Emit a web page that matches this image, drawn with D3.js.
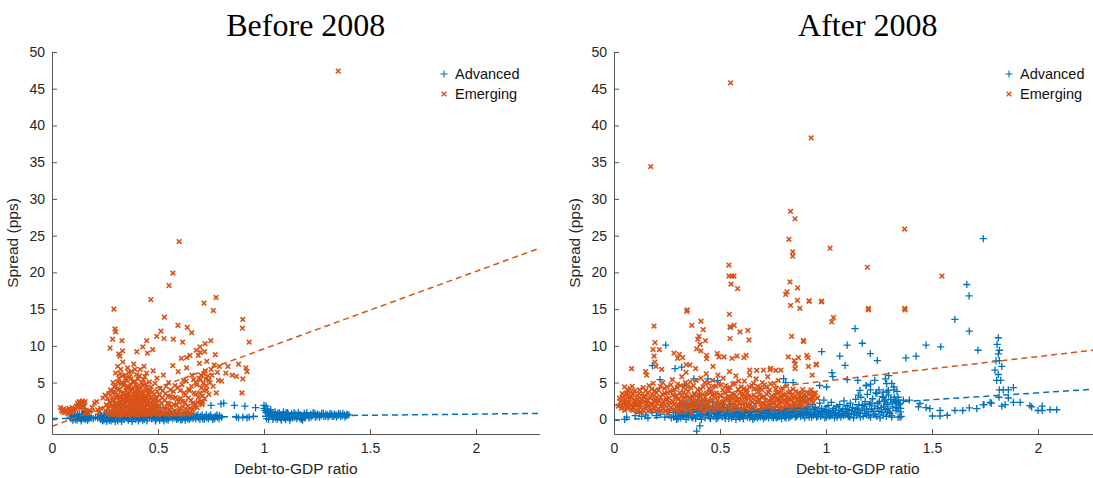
<!DOCTYPE html>
<html>
<head>
<meta charset="utf-8">
<script src="https://cdn.jsdelivr.net/npm/d3@7/dist/d3.min.js"></script>
<style>
body { margin: 0; background: #fff; }
svg { display: block; }
.tick text { font-family: "Liberation Sans", Arial, sans-serif; font-size: 14px; fill: #262626; }
</style>
</head>
<body>
<svg id="fig" width="1093" height="478"></svg>
<script>
// axis setup
var xDomain = [0, 2.3];
var yDomain = [-2, 50];
var xTicks = [0, 0.5, 1, 1.5, 2];
var yTicks = [0, 5, 10, 15, 20, 25, 30, 35, 40, 45, 50];
var seriesNames = ["Advanced", "Emerging"];
var seriesColors = ["#0072BD", "#D95319"];
var panelTitles = ["Before 2008", "After 2008"];

// before 2008, advanced economies [debt/gdp, spread]
var beforeAdv = [
  [0.085,0.3],[0.09,0.1],[0.095,0.5],[0.1,0.2],[0.105,0.4],[0.11,0.0],[0.115,0.3],[0.12,0.6],[0.125,0.2],[0.13,0.4],
  [0.135,0.1],[0.14,0.5],[0.145,0.3],[0.15,0.7],[0.155,0.9],[0.158,0.5],[0.16,1.0],[0.162,0.2],[0.165,0.6],[0.17,0.3],[0.175,0.1],
  [0.088,0.6],[0.098,-0.1],[0.108,0.6],[0.118,-0.1],[0.128,0.7],[0.138,-0.2],[0.148,0.1],[0.152,1.1],[0.157,0.0],[0.163,0.8],
  [0.168,-0.1],[0.172,0.5],[0.178,0.3],[0.185,0.2],[0.195,0.1],[0.205,0.3],[0.215,0.2],
  [0.225,0.3],[0.23,0.0],[0.235,0.5],[0.24,0.2],[0.245,-0.1],[0.25,0.4],[0.255,0.1],[0.26,0.6],[0.265,0.2],[0.27,-0.1],
  [0.275,0.3],[0.28,0.5],[0.285,0.0],[0.29,0.2],[0.295,0.4],[0.3,0.1],[0.305,0.6],[0.31,-0.2],[0.315,0.3],[0.32,0.1],
  [0.325,0.5],[0.33,0.2],[0.335,0.7],[0.34,0.0],[0.345,0.4],[0.35,0.2],[0.355,0.6],[0.36,-0.1],[0.365,0.3],[0.37,0.5],
  [0.375,0.1],[0.38,0.8],[0.385,0.2],[0.39,0.4],[0.395,0.0],[0.4,0.6],[0.405,0.3],[0.41,0.9],[0.415,0.1],[0.42,0.5],
  [0.425,0.2],[0.43,0.7],[0.435,0.0],[0.44,0.4],[0.445,1.1],[0.45,0.2],[0.455,0.6],[0.46,0.3],[0.465,0.8],[0.47,0.1],
  [0.475,0.5],[0.48,0.3],[0.485,0.7],[0.49,0.0],[0.495,0.4],[0.5,0.2],[0.505,0.6],[0.51,1.6],[0.515,0.3],[0.52,0.1],
  [0.525,0.5],[0.53,0.2],[0.535,0.7],[0.54,0.0],[0.545,0.4],[0.55,0.2],[0.555,0.6],[0.56,0.3],[0.565,0.8],[0.57,0.1],
  [0.575,0.4],[0.58,0.2],[0.585,0.6],[0.59,0.3],[0.595,0.1],[0.6,0.5],[0.605,0.2],[0.61,0.4],[0.615,0.0],[0.62,0.3],
  [0.625,0.6],[0.63,0.2],[0.635,0.4],[0.64,0.1],[0.645,0.5],[0.65,0.3],[0.655,0.2],[0.66,0.4],[0.665,0.1],[0.67,0.3],
  [0.68,0.5],[0.69,0.2],[0.7,0.4],[0.71,0.1],[0.72,0.3],[0.73,0.2],[0.74,0.4],[0.75,0.3],[0.76,0.2],[0.77,0.4],
  [0.78,0.3],[0.79,0.5],[0.8,0.3],[0.797,2.1],[0.81,2.2],[0.86,1.9],[0.91,1.8],[0.75,1.9],
  [0.228,0.6],[0.238,-0.2],[0.248,0.7],[0.258,-0.3],[0.268,0.5],[0.278,-0.2],[0.288,0.8],[0.298,-0.3],[0.308,0.3],[0.318,0.8],
  [0.328,-0.3],[0.338,0.4],[0.348,0.9],[0.358,0.1],[0.368,0.7],[0.378,-0.3],[0.388,0.6],[0.398,0.9],[0.408,-0.2],[0.418,0.7],
  [0.428,-0.1],[0.438,0.9],[0.448,-0.2],[0.458,0.8],[0.468,0.4],[0.478,1.0],[0.488,-0.2],[0.498,0.7],[0.508,-0.1],[0.518,0.8],
  [0.528,-0.2],[0.538,0.9],[0.548,-0.1],[0.558,0.9],[0.568,0.4],[0.578,0.8],[0.588,0.0],[0.598,0.8],[0.608,-0.1],[0.618,0.7],
  [0.628,-0.1],[0.638,0.8],[0.648,0.0],[0.658,0.7],[0.668,0.6],[0.678,0.1],[0.688,0.6],[0.698,0.0],[0.708,0.6],[0.718,0.0],
  [0.728,0.6],[0.738,0.1],[0.748,0.6],[0.758,0.0],[0.768,0.1],[0.778,0.6],[0.788,0.1],
  [0.87,0.3],[0.88,0.2],[0.9,0.3],[0.92,0.2],[0.93,0.3],[0.95,0.4],[0.96,1.6],[1.0,1.9],[1.0,1.5],[1.005,1.2],
  [1.01,1.8],[1.01,0.9],[1.015,1.4],[1.02,0.7],[1.02,1.1],[1.025,0.5],[1.03,0.9],[1.035,0.4],[1.04,0.7],[1.045,0.3],
  [1.05,0.6],[1.055,0.2],[1.06,0.5],[1.065,0.8],[1.07,0.3],[1.075,0.6],[1.08,0.1],[1.085,0.4],[1.09,0.7],[1.095,0.2],
  [1.1,0.5],[1.105,0.9],[1.11,0.3],[1.115,0.6],[1.12,0.1],[1.125,0.4],[1.13,0.8],[1.135,0.2],[1.14,0.5],[1.145,0.3],
  [1.15,0.7],[1.155,0.1],[1.16,0.4],[1.165,0.6],[1.17,0.2],[1.175,0.0],[1.18,0.1],[1.185,0.5],[1.19,0.8],[1.195,0.3],
  [1.2,0.6],[1.21,0.4],[1.22,0.7],[1.23,0.5],[1.24,0.8],[1.25,0.4],[1.26,0.6],[1.27,0.5],[1.28,0.8],[1.29,0.4],
  [1.3,0.6],[1.31,0.5],[1.32,0.7],[1.33,0.4],[1.34,0.6],[1.35,0.5],[1.36,0.7],[1.37,0.5],[1.38,0.6],[1.39,0.5],[1.4,0.6],
  [1.012,0.1],[1.022,0.0],[1.032,1.3],[1.042,0.0],[1.052,1.0],[1.062,0.0],[1.072,0.9],[1.082,-0.1],[1.092,1.0],[1.102,0.0],
  [1.112,0.9],[1.122,-0.1],[1.132,0.6],[1.142,0.9],[1.152,0.4],[1.162,0.9],[1.172,0.6],[1.182,-0.1],[1.192,0.2],[1.202,0.9],
  [1.212,0.2],[1.222,0.3],[1.232,0.9],[1.242,0.3],[1.252,0.7],[1.262,0.3],[1.272,0.8],[1.282,0.4],[1.292,0.7],[1.302,0.3],
  [1.312,0.8],[1.322,0.4],[1.332,0.7],[1.342,0.3],[1.352,0.8],[1.362,0.4],[1.372,0.8],[1.382,0.3],[1.392,0.7]
];

// before 2008, emerging economies
var beforeEme = [
  [1.35,47.4],[0.60,24.2],[0.57,19.9],[0.552,18.2],[0.466,16.3],[0.292,15.0],[0.717,15.8],[0.774,16.6],[0.761,14.8],[0.90,13.6],
  [0.898,12.4],[0.53,13.9],[0.297,12.3],[0.30,11.9],[0.594,12.8],[0.638,12.5],[0.659,11.8],[0.514,12.0],[0.494,11.3],[0.528,11.0],
  [0.572,10.9],[0.616,10.5],[0.749,10.7],[0.722,10.3],[0.93,10.5],[0.286,10.9],[0.33,10.7],[0.274,9.7],[0.333,9.3],[0.315,8.9],
  [0.32,8.6],[0.40,9.2],[0.428,9.85],[0.447,10.7],[0.475,9.5],[0.45,9.0],[0.698,9.85],[0.68,9.4],[0.70,9.1],[0.72,9.2],
  [0.77,8.8],[0.651,8.7],[0.635,8.4],[0.61,8.3],[0.69,8.7],[0.90,5.5],[0.87,5.85],[0.915,7.0],[0.92,6.5],[0.896,3.6],
  [0.785,5.3],[0.80,5.2],[0.83,7.2],[0.79,7.2],[0.78,6.4],[0.74,5.3],[0.70,5.4],[0.73,4.0],[0.775,3.6],[0.71,2.3],
  [0.04,1.6],[0.045,1.2],[0.05,1.0],[0.055,1.4],[0.06,0.9],[0.065,1.3],[0.07,1.1],[0.075,0.8],[0.08,1.5],[0.085,1.2],
  [0.09,0.9],[0.095,1.6],[0.1,1.3],[0.105,1.0],[0.11,1.4],[0.115,1.8],[0.12,2.2],[0.122,1.6],[0.125,2.0],[0.128,2.4],
  [0.13,1.8],[0.133,2.3],[0.136,1.5],[0.14,2.1],[0.143,2.5],[0.146,1.9],[0.15,2.2],[0.153,1.7],[0.156,2.4],[0.16,1.2],
  [0.165,1.0],[0.17,0.8],[0.18,1.1],[0.19,1.6],[0.2,2.2],[0.21,2.4],[0.215,1.3],[0.22,0.9],[0.23,1.5],[0.24,2.9],[0.25,3.3],
  [0.252,1.2],[0.256,2.0],[0.26,0.7],[0.262,2.8],[0.265,1.5],[0.268,3.5],[0.27,1.0],[0.273,2.3],[0.276,4.0],[0.278,0.6],
  [0.28,1.8],[0.283,3.0],[0.286,2.5],[0.288,5.0],[0.29,1.3],[0.293,3.8],[0.296,0.8],[0.298,2.1],[0.3,6.3],[0.302,4.5],
  [0.305,1.6],[0.307,2.9],[0.31,7.2],[0.312,3.4],[0.314,1.1],[0.316,5.6],[0.318,2.4],[0.32,4.1],[0.322,0.7],[0.324,6.8],
  [0.326,3.0],[0.328,1.9],[0.33,5.0],[0.332,2.6],[0.334,7.8],[0.336,1.4],[0.338,4.6],[0.34,3.3],[0.342,0.9],[0.344,6.0],
  [0.346,2.2],[0.348,3.9],[0.35,5.3],[0.352,1.7],[0.354,2.9],[0.356,7.0],[0.358,4.3],[0.36,0.8],[0.362,3.6],[0.364,2.1],
  [0.366,5.8],[0.368,1.3],[0.37,4.8],[0.372,3.1],[0.374,6.5],[0.376,2.5],[0.378,0.6],[0.38,4.0],[0.382,1.9],[0.384,3.4],
  [0.386,7.5],[0.388,2.8],[0.39,5.2],[0.392,1.1],[0.394,3.7],[0.396,2.3],[0.398,6.1],[0.4,4.4],[0.402,1.5],[0.404,3.0],
  [0.406,5.5],[0.408,2.0],[0.41,0.7],[0.412,4.1],[0.414,2.7],[0.416,6.8],[0.418,1.2],[0.42,3.5],[0.422,5.0],[0.424,2.3],
  [0.426,0.9],[0.428,4.6],[0.43,3.1],[0.432,1.7],[0.434,7.2],[0.436,2.6],[0.438,5.8],[0.44,1.0],[0.442,3.9],[0.444,2.1],
  [0.446,6.3],[0.448,4.3],[0.45,1.4],[0.453,3.4],[0.456,2.0],[0.459,5.1],[0.462,0.8],[0.465,2.9],[0.468,4.4],[0.471,1.6],
  [0.474,3.7],[0.477,6.6],[0.48,2.4],[0.483,1.1],[0.486,4.9],[0.489,3.0],[0.492,1.9],[0.495,5.6],[0.498,0.7],
  [0.335,2.0],[0.345,1.5],[0.355,2.5],[0.365,3.0],[0.375,1.8],[0.385,2.2],[0.395,1.6],[0.405,2.6],[0.415,1.9],[0.425,3.3],
  [0.435,1.3],[0.445,2.8],[0.34,3.6],[0.36,4.5],[0.38,2.7],[0.4,3.2],[0.42,1.5],[0.44,2.4],[0.37,1.2],[0.39,0.9],
  [0.41,1.1],[0.43,0.8],[0.35,1.0],[0.33,1.3],[0.31,0.9],[0.29,1.6],
  [0.282,0.9],[0.287,3.6],[0.291,2.7],[0.295,4.4],[0.299,1.4],[0.303,3.2],[0.306,2.2],[0.309,5.1],[0.311,1.3],[0.313,4.0],
  [0.317,1.8],[0.319,3.0],[0.321,6.2],[0.323,2.0],[0.327,4.8],[0.329,1.0],[0.331,3.5],[0.333,5.9],[0.337,2.8],[0.339,1.6],
  [0.341,4.9],[0.343,2.4],[0.347,5.6],[0.349,1.2],[0.351,3.1],[0.353,4.4],[0.357,1.9],[0.359,3.3],[0.361,6.4],[0.363,2.6],
  [0.367,3.9],[0.369,1.5],[0.371,5.5],[0.373,2.2],[0.377,4.2],[0.379,3.0],[0.381,1.4],[0.383,5.0],[0.387,2.0],[0.389,3.8],
  [0.391,6.8],[0.393,2.9],[0.397,4.7],[0.399,1.8],[0.401,3.5],[0.403,2.2],[0.407,4.0],[0.409,1.3],[0.411,3.0],[0.413,5.9],
  [0.417,2.4],[0.419,4.4],[0.421,1.0],[0.423,2.9],[0.427,3.8],[0.429,2.0],[0.431,5.4],[0.433,1.4],[0.437,3.2],[0.439,2.5],
  [0.441,4.8],[0.443,1.6],[0.447,3.0],[0.449,2.0],[0.452,4.0],[0.455,1.2],[0.458,2.5],[0.461,3.9],[0.464,1.7],[0.467,2.2],
  [0.47,3.1],[0.473,1.3],[0.476,2.6],[0.479,1.8],[0.482,3.4],[0.485,2.2],[0.488,1.4],[0.491,2.7],[0.494,1.8],[0.497,3.8],
  [0.502,2.5],[0.505,1.2],[0.51,4.2],[0.515,0.8],[0.52,2.9],[0.525,6.0],[0.53,1.6],[0.535,3.5],[0.54,0.9],[0.545,2.2],
  [0.55,5.0],[0.555,1.3],[0.56,3.1],[0.565,0.7],[0.57,7.3],[0.575,2.0],[0.58,4.6],[0.585,1.0],[0.59,2.7],[0.595,6.5],
  [0.6,1.5],[0.605,3.9],[0.61,0.8],[0.615,2.4],[0.62,5.3],[0.625,1.1],[0.63,3.3],[0.635,7.0],[0.64,1.8],[0.645,4.1],
  [0.65,0.9],[0.655,2.6],[0.66,6.0],[0.665,1.4],[0.67,3.6],[0.675,2.1],[0.68,5.0],[0.685,1.6],[0.69,3.0],[0.695,7.6],
  [0.7,2.4],[0.705,4.3],[0.71,3.2],[0.715,6.2],[0.72,2.8],[0.725,5.5],[0.73,7.9],[0.74,3.4],[0.75,6.8],[0.76,4.5],
  [0.765,7.4],[0.82,6.3],[0.85,6.0],[0.88,7.5],
  [0.503,1.8],[0.508,3.3],[0.512,1.0],[0.518,2.2],[0.522,3.9],[0.527,1.4],[0.532,2.6],[0.538,4.5],[0.543,1.5],[0.548,3.2],
  [0.553,2.1],[0.558,4.0],[0.563,1.6],[0.568,2.9],[0.573,3.8],[0.578,1.2],[0.583,3.0],[0.588,1.9],[0.593,4.3],[0.598,2.4],
  [0.603,1.1],[0.608,2.9],[0.613,4.7],[0.618,1.7],[0.623,3.6],[0.628,2.3],[0.633,5.2],[0.638,1.3],[0.643,2.9],[0.648,3.9],
  [0.653,1.5],[0.658,4.5],[0.663,2.2],[0.668,5.4],[0.673,1.7],[0.678,3.4],[0.683,4.7],[0.688,2.3],[0.693,5.6],[0.698,3.6],
  [0.703,6.0],[0.708,2.0],[0.713,4.9],[0.718,3.9],[0.723,6.6],[0.728,4.6],[0.735,5.9],[0.745,5.0],[0.755,6.0],
  [0.3,0.6],[0.32,0.5],[0.34,0.6],[0.36,0.5],[0.38,0.7],[0.4,0.5],[0.42,0.6],[0.44,0.5],[0.46,0.6],[0.48,0.7],
  [0.5,0.6],[0.52,0.7],[0.54,0.6],[0.56,0.7],[0.58,0.6],[0.6,0.7],[0.62,0.6],[0.64,0.7],[0.66,0.8]
];

// after 2008, advanced economies
var afterAdv = [
  [0.05,0.0],[0.06,0.3],[0.1,0.5],[0.12,0.8],[0.13,0.4],[0.15,0.6],[0.16,0.2],[0.18,0.9],[0.2,0.5],[0.22,0.7],
  [0.24,0.3],[0.25,1.1],[0.26,0.6],[0.27,0.2],[0.28,0.9],[0.29,0.4],[0.3,1.3],[0.295,0.0],
  [0.305,0.6],[0.31,1.8],[0.315,0.2],[0.32,1.1],[0.325,2.4],[0.33,0.5],[0.335,1.5],[0.34,0.0],[0.345,2.0],[0.35,0.8],
  [0.355,1.3],[0.36,2.6],[0.365,0.3],[0.37,1.7],[0.375,0.9],[0.38,2.2],[0.385,0.1],[0.39,1.4],[0.395,0.6],[0.4,1.9],
  [0.405,0.4],[0.41,1.2],[0.415,2.5],[0.42,0.7],[0.425,1.6],[0.43,0.2],[0.435,1.0],[0.44,2.1],[0.445,0.5],[0.45,1.4],
  [0.455,0.1],[0.46,0.9],[0.465,1.8],[0.47,0.4],[0.475,1.2],[0.48,0.7],[0.485,1.6],[0.49,0.2],[0.495,1.0],[0.5,0.5],
  [0.33,1.9],[0.35,0.3],[0.37,1.1],[0.39,2.0],[0.41,0.6],[0.43,1.5],[0.45,0.9],[0.47,2.3],[0.49,1.3],
  [0.505,1.4],[0.51,0.3],[0.515,0.9],[0.52,1.7],[0.525,0.1],[0.53,0.6],[0.535,1.2],[0.54,0.4],[0.545,2.0],[0.55,0.8],
  [0.555,0.2],[0.56,1.3],[0.565,0.6],[0.57,1.0],[0.575,0.0],[0.58,1.5],[0.585,0.5],[0.59,0.9],[0.595,0.3],[0.6,1.2],
  [0.605,0.7],[0.61,0.1],[0.615,1.1],[0.62,0.5],[0.625,1.6],[0.63,0.3],[0.635,0.8],[0.64,0.2],[0.645,1.0],[0.65,0.6],
  [0.655,0.0],[0.66,1.3],[0.665,0.4],[0.67,0.9],[0.675,0.2],[0.68,1.1],[0.685,0.6],[0.69,0.3],[0.695,1.4],[0.7,0.5],
  [0.705,0.1],[0.71,0.8],[0.715,1.2],[0.72,0.4],[0.725,0.9],[0.73,0.2],[0.735,1.5],[0.74,0.6],[0.745,0.3],[0.75,1.0],
  [0.755,0.5],[0.76,1.7],[0.765,0.2],[0.77,0.8],[0.775,1.3],[0.78,0.4],[0.785,0.9],[0.79,0.1],[0.795,1.2],[0.8,0.6],
  [0.805,0.3],[0.81,1.1],[0.815,0.7],[0.82,1.6],[0.825,0.2],[0.83,0.9],[0.835,1.4],[0.84,0.5],[0.845,1.9],[0.85,0.8],
  [0.855,0.3],[0.86,1.2],[0.865,0.6],[0.87,2.1],[0.875,1.0],[0.88,0.4],[0.885,1.5],[0.89,0.8],[0.895,2.4],[0.9,0.2],
  [0.905,1.1],[0.91,0.6],[0.915,1.8],[0.92,0.3],[0.925,1.3],[0.93,0.8],[0.935,2.0],[0.94,0.5],[0.945,1.0],[0.95,1.6],
  [0.955,0.3],[0.96,1.2],[0.965,0.7],[0.97,2.2],[0.975,0.4],[0.98,1.5],[0.985,0.9],[0.99,2.6],[0.995,0.2],[1.0,1.3],
  [1.005,0.7],[1.01,1.9],[1.015,0.4],[1.02,1.1],[1.025,2.3],[1.03,0.6],[1.035,1.5],[1.04,0.2],[1.045,0.9],[1.05,1.7],
  [1.055,0.5],[1.06,1.2],[1.065,2.0],[1.07,0.3],[1.075,0.8],[1.08,1.4],[1.085,2.5],[1.09,0.6],[1.095,1.0],[1.1,1.8],
  [1.105,0.4],[1.11,1.3],[1.115,2.2],[1.12,0.7],[1.125,1.6],[1.13,0.2],[1.135,1.0],[1.14,2.7],[1.145,0.5],[1.15,1.4],
  [1.155,2.0],[1.16,0.8],[1.165,3.0],[1.17,1.2],[1.175,0.4],[1.18,1.7],[1.185,2.4],[1.19,0.6],[1.195,3.4],[1.2,1.0],
  [1.205,2.0],[1.21,0.3],[1.215,1.4],[1.22,2.8],[1.225,0.7],[1.23,1.8],[1.235,3.6],[1.24,0.4],[1.245,2.2],[1.25,1.1],
  [1.255,0.2],[1.26,1.6],[1.265,3.1],[1.27,0.6],[1.275,2.5],[1.28,1.3],[1.285,0.4],[1.29,2.0],[1.295,3.3],[1.3,1.0],
  [1.305,2.7],[1.31,0.5],[1.315,1.7],[1.32,4.4],[1.325,2.4],[1.33,1.2],[1.335,3.8],[1.34,0.3],[1.345,2.0],[1.35,1.0],[1.355,0.4],
  [0.282,0.3],[0.292,1.0],[0.302,0.1],[0.312,0.8],[0.322,0.4],[0.332,1.2],[0.342,0.7],[0.352,1.8],[0.362,0.9],[0.372,0.2],
  [0.382,1.5],[0.392,0.4],[0.402,1.1],[0.412,0.0],[0.422,1.8],[0.432,0.7],[0.442,1.2],[0.452,0.3],[0.462,1.5],[0.472,0.8],
  [0.482,0.1],[0.492,0.6],[0.502,0.9],[0.512,1.6],[0.522,0.5],[0.532,1.0],[0.542,0.1],[0.552,1.4],[0.562,0.4],[0.572,1.7],
  [0.582,0.8],[0.592,0.2],[0.602,0.4],[0.612,1.0],[0.622,1.3],[0.632,0.9],[0.642,0.5],[0.652,1.1],[0.662,0.2],[0.672,0.6],
  [0.682,0.4],[0.692,0.9],[0.702,1.0],[0.712,0.3],[0.722,1.3],[0.732,0.7],[0.742,1.1],[0.752,0.2],[0.762,0.6],[0.772,0.3],
  [0.782,1.2],[0.792,0.6],[0.802,1.0],[0.812,0.2],[0.822,0.6],[0.832,0.4],[0.842,1.1],[0.852,1.3],[0.862,0.4],[0.872,0.7],
  [0.882,1.1],[0.892,0.5],[0.902,1.4],[0.912,0.9],[0.922,0.6],[0.932,0.3],[0.942,1.4],[0.952,0.7],[0.962,0.4],[0.972,1.1],
  [0.982,0.6],[0.992,1.1],[1.002,0.3],[1.012,0.9],[1.022,0.5],[1.032,1.2],[1.042,0.8],[1.052,0.3],[1.062,0.6],[1.072,1.1],
  [1.082,0.5],[1.092,1.4],[1.102,0.8],[1.112,0.3],[1.122,1.2],[1.132,0.7],[1.142,1.5],[1.152,0.9],[1.162,0.3],[1.172,1.9],
  [1.182,0.8],[1.192,1.4],[1.202,0.5],[1.212,2.2],[1.222,1.1],[1.232,0.6],[1.242,1.5],[1.252,2.4],[1.262,0.9],[1.272,1.8],
  [1.282,2.6],[1.292,1.5],[1.302,0.8],[1.312,2.2],[1.322,3.0],[1.332,1.6],[1.342,2.6],[1.352,1.5],
  [0.39,-1.6],[0.405,-0.9],
  [0.244,10.1],[0.181,7.3],[0.288,6.9],[0.217,5.4],[0.332,4.7],[0.377,5.5],[0.489,5.25],[0.443,5.5],[0.80,5.55],[0.845,5.0],
  [0.81,5.0],[0.89,3.0],[0.98,9.2],[1.065,8.6],[1.09,7.35],[1.10,10.1],[1.137,12.35],[1.171,10.35],[1.209,8.95],[1.242,8.0],
  [1.028,6.35],[1.032,5.8],[1.003,4.4],[0.97,4.6],[1.1,5.4],[1.152,3.3],[1.19,4.6],[1.21,4.0],[1.24,3.5],[1.296,5.95],
  [1.287,3.7],[1.33,2.5],[0.319,7.1],[0.285,3.4],
  [1.742,24.6],[1.664,18.35],[1.675,16.8],[1.608,13.6],[1.676,12.0],[1.472,10.1],[1.541,9.85],[1.717,9.4],[1.377,8.35],[1.425,8.6],
  [1.813,11.1],[1.807,10.2],[1.818,9.4],[1.813,8.9],[1.802,7.95],[1.818,8.0],[1.829,7.2],[1.797,6.7],[1.813,6.1],[1.805,5.3],
  [1.824,5.3],[1.818,4.0],[1.836,4.0],[1.86,4.0],[1.884,4.3],[1.816,3.0],[1.86,2.9],[1.829,1.8],[1.845,2.0],[1.884,2.3],
  [1.916,2.3],[1.962,1.85],[1.97,1.7],[2.0,1.2],[2.02,1.8],[2.02,1.2],[2.057,1.3],[2.088,1.3],
  [1.608,1.2],[1.645,1.2],[1.676,1.55],[1.711,1.45],[1.742,2.0],[1.774,2.3],[1.502,0.45],[1.538,0.45],[1.572,0.55],[1.538,1.2],
  [1.49,1.45],[1.472,1.6],[1.436,1.7],[1.443,2.15],[1.393,2.6],[1.365,2.6],[1.34,1.5],[1.349,0.3],[1.31,0.3],[1.29,1.0],
  [1.294,3.95],[1.286,4.85],[1.28,5.5],[1.31,4.9],[1.32,4.0],[1.27,3.0],[1.34,3.0],[1.33,2.3],[1.35,2.2],
  [1.16,3.95],[1.19,4.6],[1.21,4.8],[1.25,4.0],[1.27,3.7],[1.23,5.3],[1.15,5.3],[1.745,2.0],[1.78,2.2]
];

// after 2008, emerging economies
var afterEme = [
  [0.173,34.4],[0.55,45.8],[0.93,38.3],[0.833,28.3],[0.854,27.3],[1.371,25.9],[0.825,24.5],[1.019,23.3],[0.843,22.8],[0.843,22.2],
  [0.542,21.0],[1.195,20.7],[0.542,19.5],[0.556,19.5],[0.566,19.5],[1.547,19.5],[0.552,18.4],[0.583,17.8],[0.83,18.7],[0.866,17.9],
  [0.816,17.35],[0.81,17.0],[0.865,16.2],[0.921,16.1],[0.978,16.0],[0.833,15.5],[0.877,15.1],[0.346,14.9],[1.2,15.1],[1.371,15.1],
  [0.189,12.7],[0.193,10.45],[0.184,9.5],[0.189,8.6],[0.193,7.8],[0.198,7.2],[0.083,6.9],[0.057,3.5],[0.086,4.5],[0.149,6.5],
  [0.154,6.0],[0.214,9.5],[0.225,6.8],[0.343,14.7],[0.367,12.8],[0.41,13.35],[0.421,12.2],[0.401,11.3],[0.395,10.9],[0.406,10.2],
  [0.431,10.7],[0.39,9.6],[0.41,9.3],[0.283,9.0],[0.308,8.85],[0.30,8.3],[0.324,8.4],[0.341,7.45],[0.358,7.4],[0.437,8.7],
  [0.437,8.25],[0.467,7.2],[0.487,8.95],[0.495,8.5],[0.519,8.5],[0.544,14.3],[0.547,12.6],[0.55,12.5],[0.567,12.8],[0.547,11.0],
  [0.594,11.9],[0.631,12.1],[0.637,10.8],[0.623,8.7],[0.613,8.4],[0.557,8.3],[0.58,8.6],[0.64,6.7],[0.673,6.65],[0.705,6.7],
  [0.736,6.75],[0.739,6.95],[0.822,8.5],[0.838,11.3],[0.85,8.0],[0.855,7.5],[0.854,6.9],[0.87,8.4],[0.895,10.6],[0.915,8.4],
  [0.917,7.2],[0.935,6.0],[0.955,7.4],[0.787,6.7],[0.763,6.65],
  [0.893,10.7],[0.909,8.7],[0.953,7.5],[0.89,4.05],[0.91,3.7],[0.94,3.5],[0.9,2.9],[0.94,3.0],[0.96,2.9],[0.93,4.0],
  [1.2,14.9],[1.373,14.9],[1.027,13.25],[1.035,13.85],[0.92,16.1],[0.98,16.1],
  [0.02,1.8],[0.03,2.4],[0.035,1.5],[0.04,3.0],[0.045,2.1],[0.05,1.2],[0.055,2.7],[0.06,3.6],[0.065,1.8],[0.07,2.3],
  [0.075,4.2],[0.08,1.4],[0.085,2.9],[0.09,3.4],[0.095,1.9],[0.1,2.5],[0.05,4.4],[0.07,3.1],[0.09,1.6],[0.06,2.0],
  [0.105,1.3],[0.11,3.2],[0.115,2.0],[0.12,4.0],[0.125,1.6],[0.13,2.8],[0.135,3.5],[0.14,1.1],[0.145,2.4],[0.15,3.9],
  [0.155,1.7],[0.16,2.6],[0.165,4.6],[0.17,1.3],[0.175,3.1],[0.18,2.0],[0.185,4.9],[0.19,1.5],[0.195,2.8],[0.2,3.6],
  [0.12,2.3],[0.14,3.0],[0.16,1.9],[0.18,3.4],[0.2,1.2],
  [0.205,2.2],[0.21,4.0],[0.215,1.0],[0.22,3.0],[0.225,2.1],[0.23,5.0],[0.235,1.5],[0.24,3.5],[0.245,2.6],[0.25,4.4],
  [0.255,0.9],[0.26,2.9],[0.265,3.8],[0.27,1.6],[0.275,5.4],[0.28,2.4],[0.285,4.1],[0.29,1.2],[0.295,3.2],[0.3,2.0],
  [0.22,1.7],[0.24,2.0],[0.26,1.4],[0.28,3.3],[0.3,4.8],
  [0.305,1.0],[0.31,3.6],[0.315,2.5],[0.32,5.8],[0.325,1.6],[0.33,4.3],[0.335,2.9],[0.34,6.4],[0.345,1.3],[0.35,3.8],
  [0.355,2.2],[0.36,5.1],[0.365,0.9],[0.37,3.1],[0.375,4.6],[0.38,1.8],[0.385,6.9],[0.39,2.6],[0.395,4.0],[0.4,1.4],
  [0.32,2.2],[0.34,3.2],[0.36,1.9],[0.38,3.5],[0.4,2.8],[0.33,1.1],[0.37,2.3],
  [0.405,3.3],[0.41,5.6],[0.415,2.0],[0.42,4.4],[0.425,1.1],[0.43,3.0],[0.435,6.2],[0.44,2.4],[0.445,4.9],[0.45,1.6],
  [0.455,3.7],[0.46,2.7],[0.465,5.3],[0.47,1.2],[0.475,3.4],[0.48,4.5],[0.485,2.1],[0.49,6.0],[0.495,1.5],[0.5,3.2],
  [0.42,2.6],[0.44,1.7],[0.46,3.9],[0.48,2.9],[0.5,1.9],
  [0.505,4.7],[0.51,2.3],[0.515,5.6],[0.52,1.3],[0.525,3.6],[0.53,2.6],[0.535,4.2],[0.54,1.7],[0.545,6.5],[0.55,3.0],
  [0.555,2.0],[0.56,4.8],[0.565,1.2],[0.57,3.4],[0.575,5.9],[0.58,2.4],[0.585,4.1],[0.59,1.5],[0.595,3.7],[0.6,2.7],
  [0.52,2.9],[0.54,3.9],[0.56,2.8],[0.58,1.8],[0.6,4.4],
  [0.605,1.4],[0.61,3.5],[0.615,5.2],[0.62,2.2],[0.625,4.0],[0.63,1.2],[0.635,3.1],[0.64,6.0],[0.645,2.5],[0.65,4.6],
  [0.655,1.7],[0.66,3.3],[0.665,2.0],[0.67,5.5],[0.675,1.1],[0.68,3.8],[0.685,2.7],[0.69,4.3],[0.695,1.6],[0.7,3.0],
  [0.62,3.0],[0.64,1.9],[0.66,4.1],[0.68,2.3],[0.7,5.0],
  [0.705,2.1],[0.71,4.7],[0.715,1.3],[0.72,3.4],[0.725,5.8],[0.73,2.5],[0.735,4.0],[0.74,1.8],[0.745,3.2],[0.75,2.3],
  [0.755,4.9],[0.76,1.5],[0.765,3.7],[0.77,2.8],[0.775,5.3],[0.78,1.9],[0.785,3.1],[0.79,2.4],[0.795,4.2],[0.8,1.6],
  [0.72,1.9],[0.74,2.9],[0.76,3.3],[0.78,2.2],
  [0.805,3.3],[0.81,2.2],[0.815,4.5],[0.82,1.4],[0.825,2.9],[0.83,3.8],[0.835,1.8],[0.84,2.6],[0.845,4.1],[0.85,2.0],
  [0.855,3.2],[0.86,1.5],[0.865,2.7],[0.87,3.6],[0.875,2.2],[0.88,1.8],[0.885,3.0],[0.89,2.4],[0.9,3.4],[0.91,2.0],
  [0.92,2.8],[0.93,3.1],[0.94,2.3],[0.95,3.6],[0.96,2.9],
  [0.025,2.9],[0.032,1.9],[0.038,3.5],[0.043,2.5],[0.048,1.6],[0.053,3.2],[0.058,2.3],[0.063,4.0],[0.068,1.5],[0.073,2.7],
  [0.078,3.7],[0.083,2.0],[0.088,1.2],[0.093,2.6],[0.098,3.9],[0.103,2.0],[0.108,1.1],[0.113,2.7],[0.118,3.5],[0.123,1.9],
  [0.128,1.0],[0.133,2.3],[0.138,4.3],[0.143,1.6],[0.148,3.1],[0.153,2.1],[0.158,3.6],[0.163,1.1],[0.168,2.9],[0.173,2.1],
  [0.178,4.1],[0.183,1.3],[0.188,2.5],[0.193,3.9],[0.198,1.8],
  [0.203,3.0],[0.208,1.4],[0.213,2.6],[0.218,4.5],[0.223,1.2],[0.228,3.4],[0.233,2.4],[0.238,4.2],[0.243,1.1],[0.248,2.8],
  [0.253,3.6],[0.258,1.9],[0.263,2.3],[0.268,4.7],[0.273,1.3],[0.278,3.9],[0.283,2.0],[0.288,3.0],[0.293,1.7],[0.298,4.3],
  [0.303,2.7],[0.308,1.5],[0.313,4.6],[0.318,3.1],[0.323,1.9],[0.328,3.7],[0.333,2.4],[0.338,5.0],[0.343,2.0],[0.348,4.4],
  [0.353,1.4],[0.358,3.0],[0.363,4.3],[0.368,2.6],[0.373,1.6],[0.378,3.3],[0.383,2.3],[0.388,5.3],[0.393,1.7],[0.398,3.4],
  [0.403,2.3],[0.408,4.1],[0.413,1.5],[0.418,3.4],[0.423,2.7],[0.428,5.0],[0.433,1.9],[0.438,3.6],[0.443,1.3],[0.448,4.2],
  [0.453,2.5],[0.458,1.7],[0.463,3.3],[0.468,4.5],[0.473,2.2],[0.478,1.5],[0.483,3.6],[0.488,2.6],[0.493,4.8],[0.498,2.2],
  [0.503,3.3],[0.508,1.6],[0.513,4.0],[0.518,2.4],[0.523,1.1],[0.528,4.6],[0.533,1.9],[0.538,3.1],[0.543,2.6],[0.548,4.3],
  [0.553,1.4],[0.558,3.5],[0.563,2.3],[0.568,4.9],[0.573,1.8],[0.578,3.1],[0.583,2.7],[0.588,5.2],[0.593,2.1],[0.598,1.3],
  [0.603,3.2],[0.608,2.1],[0.613,4.2],[0.618,1.6],[0.623,2.7],[0.628,3.6],[0.633,1.9],[0.638,4.4],[0.643,1.4],[0.648,3.1],
  [0.653,2.3],[0.658,4.9],[0.663,1.5],[0.668,3.0],[0.673,2.4],[0.678,4.5],[0.683,1.3],[0.688,3.3],[0.693,2.1],[0.698,4.0],
  [0.703,1.5],[0.708,3.1],[0.713,2.6],[0.718,4.4],[0.723,1.7],[0.728,3.7],[0.733,2.0],[0.738,4.8],[0.743,2.5],[0.748,1.3],
  [0.753,3.0],[0.758,2.2],[0.763,4.1],[0.768,1.8],[0.773,2.6],[0.778,3.6],[0.783,1.4],[0.788,4.0],[0.793,2.9],[0.798,3.4],
  [0.803,2.5],[0.808,1.8],[0.813,3.0],[0.818,2.4],[0.823,3.6],[0.828,1.9],[0.833,2.7],[0.838,3.3],[0.843,1.6],[0.848,2.9],
  [0.853,2.3],[0.858,3.8],[0.863,2.0],[0.868,1.5],[0.873,3.1],[0.878,2.6],[0.883,3.5],[0.888,1.9],[0.895,2.7],[0.905,3.1],
  [0.915,2.4],[0.925,3.5],[0.935,2.6],[0.945,3.3]
];

// fitted lines, two end points each
var fitBeforeAdv = [[0, 0.1], [2.3, 0.8]];
var fitBeforeEme = [[0, -0.95], [2.3, 23.3]];
var fitAfterAdv = [[0, -0.15], [2.3, 4.17]];
var fitAfterEme = [[0, 1.9], [2.3, 9.54]];

const margins = {top: 52, bottom: 44};
const plotW = 487.6;

function drawYAxis(chart, scale, left) {
    let g = chart.append("g")
        .attr("transform", `translate(${left},0)`)
        .call(d3.axisLeft(scale).tickValues(yTicks).tickSizeInner(-5).tickSizeOuter(0).tickPadding(7));
    g.select(".domain").attr("stroke", "#555");
    g.selectAll(".tick line").attr("stroke", "#555");

    chart.append("text")
        .attr("transform", `translate(${left - 34},${(margins.top + 434) / 2}) rotate(-90)`)
        .attr("text-anchor", "middle")
        .style("font-family", "Liberation Sans, Arial, sans-serif")
        .style("font-size", "15.5px")
        .style("fill", "#262626")
        .text("Spread (pps)");
}

function drawXAxis(chart, scale, bottom) {
    let g = chart.append("g")
        .attr("transform", `translate(0,${bottom})`)
        .call(d3.axisBottom(scale).tickValues(xTicks).tickFormat(d => String(d))
            .tickSizeInner(-5).tickSizeOuter(0).tickPadding(9));
    g.select(".domain").attr("stroke", "#555");
    g.selectAll(".tick line").attr("stroke", "#555");

    let r = scale.range();
    chart.append("text")
        .attr("x", (r[0] + r[1]) / 2)
        .attr("y", bottom + 40)
        .attr("text-anchor", "middle")
        .style("font-family", "Liberation Sans, Arial, sans-serif")
        .style("font-size", "15.5px")
        .style("fill", "#262626")
        .text("Debt-to-GDP ratio");
}

// '+' for advanced, 'x' for emerging
var markerPaths = ["M-3.6,0H3.6M0,-3.6V3.6", "M-2.3,-2.3L2.3,2.3M-2.3,2.3L2.3,-2.3"];
var markerWidths = [1.3, 1.6];

function drawDots(chart, data, k, x, y, clipId) {
    chart.append("g")
        .attr("clip-path", `url(#${clipId})`)
        .selectAll("path").data(data).enter().append("path")
        .attr("transform", d => `translate(${x(d[0])},${y(d[1])})`)
        .attr("d", markerPaths[k])
        .attr("fill", "none")
        .attr("stroke", seriesColors[k])
        .attr("stroke-width", markerWidths[k]);
}

function drawFit(chart, fit, k, x, y, clipId) {
    chart.append("line")
        .attr("clip-path", `url(#${clipId})`)
        .attr("x1", x(fit[0][0])).attr("y1", y(fit[0][1]))
        .attr("x2", x(fit[1][0])).attr("y2", y(fit[1][1]))
        .attr("stroke", seriesColors[k])
        .attr("stroke-width", 1.5)
        .attr("stroke-dasharray", "6,4");
}

function drawLegend(chart, lx, ly) {
    for (let k = 0; k < seriesNames.length; k++) {
        chart.append("path")
            .attr("transform", `translate(${lx},${ly + k * 20})`)
            .attr("d", markerPaths[k])
            .attr("fill", "none")
            .attr("stroke", seriesColors[k])
            .attr("stroke-width", markerWidths[k] - 0.2);
        chart.append("text")
            .attr("x", lx + 11)
            .attr("y", ly + k * 20 + 5)
            .style("font-family", "Liberation Sans, Arial, sans-serif")
            .style("font-size", "14.5px")
            .style("fill", "#111")
            .text(seriesNames[k]);
    }
}

function scatterPanel(chart, idx, left, adv, eme, fitA, fitE, legendX) {
    let bottom = 434;
    let x = d3.scaleLinear(xDomain, [left, left + plotW]);
    let y = d3.scaleLinear(yDomain, [bottom, margins.top]);
    let clipId = "clip" + idx;

    chart.append("clipPath").attr("id", clipId)
        .append("rect")
        .attr("x", left).attr("y", margins.top - 6)
        .attr("width", plotW).attr("height", bottom - margins.top + 6);

    drawDots(chart, adv, 0, x, y, clipId);
    drawDots(chart, eme, 1, x, y, clipId);
    drawFit(chart, fitA, 0, x, y, clipId);
    drawFit(chart, fitE, 1, x, y, clipId);

    drawYAxis(chart, y, left);
    drawXAxis(chart, x, bottom);

    chart.append("text")
        .attr("x", left + plotW / 2 + 10)
        .attr("y", 36)
        .attr("text-anchor", "middle")
        .style("font-family", "Liberation Serif, 'DejaVu Serif', serif")
        .style("font-size", "32px")
        .style("fill", "#000")
        .text(panelTitles[idx]);

    drawLegend(chart, legendX, 74);
}

let chart = d3.select("#fig");
chart.append("rect").attr("width", 1093).attr("height", 478).style("fill", "white");

scatterPanel(chart, 0, 52, beforeAdv, beforeEme, fitBeforeAdv, fitBeforeEme, 444);
scatterPanel(chart, 1, 614, afterAdv, afterEme, fitAfterAdv, fitAfterEme, 1009);
</script>
</body>
</html>
